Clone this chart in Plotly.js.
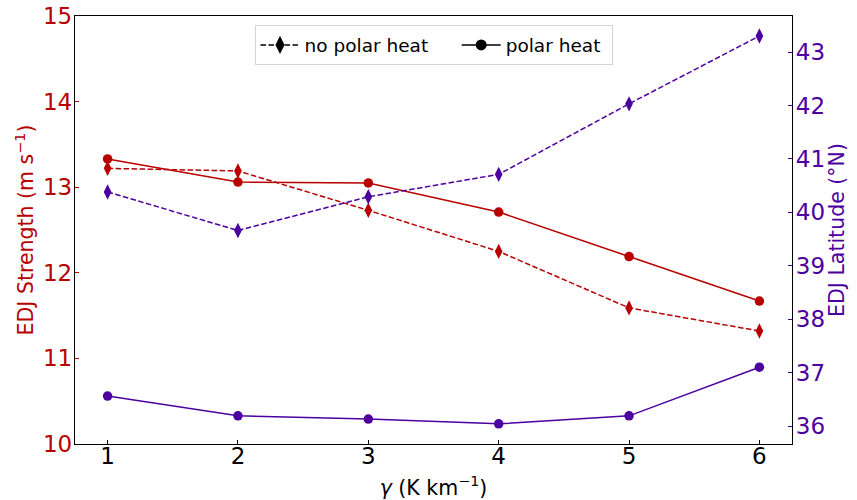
<!DOCTYPE html>
<html>
<head>
<meta charset="utf-8">
<script src="https://cdn.plot.ly/plotly-3.0.1.min.js"></script>
<style>
  html, body { margin: 0; padding: 0; background: #fff; }
  #chart { width: 857px; height: 500px; }
</style>
</head>
<body>
<div id="chart"></div>
<script>
// Lapse-rate parameter gamma (K/km)
const gamma = [1, 2, 3, 4, 5, 6];

// Eddy-driven jet strength (m/s)
const strengthNoPolarHeat = [13.22, 13.19, 12.73, 12.25, 11.59, 11.32];
const strengthPolarHeat   = [13.33, 13.06, 13.05, 12.71, 12.19, 11.67];

// Eddy-driven jet latitude (deg N)
const latitudeNoPolarHeat = [40.38, 39.66, 40.29, 40.71, 42.03, 43.30];
const latitudePolarHeat   = [36.56, 36.19, 36.13, 36.04, 36.19, 37.10];

const RED = '#b80000';
const PURPLE = '#4c00a0';
const FONT = 'DejaVu Sans, sans-serif';
const DASH = '5.5px,2.5px';
const NBSP = '\u00a0';

const traces = [
  { x: gamma, y: strengthNoPolarHeat, yaxis: 'y', mode: 'lines+markers', showlegend: false,
    line: { color: RED, width: 1.5, dash: DASH },
    marker: { symbol: 'diamond-tall', size: 11, color: RED } },
  { x: gamma, y: strengthPolarHeat, yaxis: 'y', mode: 'lines+markers', showlegend: false,
    line: { color: RED, width: 1.5 },
    marker: { symbol: 'circle', size: 9.5, color: RED } },
  { x: gamma, y: latitudeNoPolarHeat, yaxis: 'y2', mode: 'lines+markers', showlegend: false,
    line: { color: PURPLE, width: 1.5, dash: DASH },
    marker: { symbol: 'diamond-tall', size: 11, color: PURPLE } },
  { x: gamma, y: latitudePolarHeat, yaxis: 'y2', mode: 'lines+markers', showlegend: false,
    line: { color: PURPLE, width: 1.5 },
    marker: { symbol: 'circle', size: 9.5, color: PURPLE } },
  // legend keys in black
  { x: [null], y: [null], name: 'no polar heat' + NBSP.repeat(4), mode: 'lines+markers',
    line: { color: 'black', width: 1.5, dash: DASH },
    marker: { symbol: 'diamond-tall', size: 13, color: 'black' } },
  { x: [null], y: [null], name: 'polar heat' + NBSP, mode: 'lines+markers',
    line: { color: 'black', width: 1.5 },
    marker: { symbol: 'circle', size: 11, color: 'black' } }
];

const layout = {
  width: 857, height: 500,
  margin: { l: 75, r: 65, t: 16, b: 56 },
  paper_bgcolor: 'white', plot_bgcolor: 'white',
  font: { family: FONT, size: 20, color: 'black' },
  showlegend: true,
  legend: {
    orientation: 'h', x: 0.5, xanchor: 'center', y: 0.978, yanchor: 'top',
    bgcolor: 'white', bordercolor: '#d4d4d4', borderwidth: 1,
    font: { family: FONT, size: 18.5, color: 'black' },
    itemwidth: 39
  },
  xaxis: {
    range: [0.75, 6.25], tickvals: gamma, ticktext: gamma.map(String),
    showgrid: false, zeroline: false,
    showline: true, linecolor: 'black', linewidth: 1.2, mirror: true,
    ticks: 'inside', ticklen: 4, tickcolor: 'black',
    ticklabelstandoff: -9,
    tickfont: { family: FONT, size: 23, color: 'black' },
    title: { text: '<i>γ</i> (K km<sup>−1</sup>)', font: { family: FONT, size: 20.5, color: 'black' }, standoff: 12 }
  },
  yaxis: {
    range: [10, 15], dtick: 1,
    showgrid: false, zeroline: false,
    showline: true, linecolor: 'black', linewidth: 1.2,
    ticks: 'inside', ticklen: 4, tickcolor: RED,
    ticklabelstandoff: -3,
    tickfont: { family: FONT, size: 23, color: RED },
    title: { text: 'EDJ Strength (m s<sup>−1</sup>)', font: { family: FONT, size: 20.5, color: RED }, standoff: 3 }
  },
  yaxis2: {
    overlaying: 'y', side: 'right',
    range: [35.663, 43.674], dtick: 1,
    showgrid: false, zeroline: false,
    showline: true, linecolor: 'black', linewidth: 1.2,
    ticks: 'inside', ticklen: 4, tickcolor: PURPLE,
    ticklabelstandoff: -2,
    tickfont: { family: FONT, size: 23, color: PURPLE },
    title: { text: 'EDJ Latitude (°N)', font: { family: FONT, size: 20.5, color: PURPLE }, standoff: 4 }
  }
};

Plotly.newPlot('chart', traces, layout, { displayModeBar: false, staticPlot: true });
</script>
</body>
</html>
